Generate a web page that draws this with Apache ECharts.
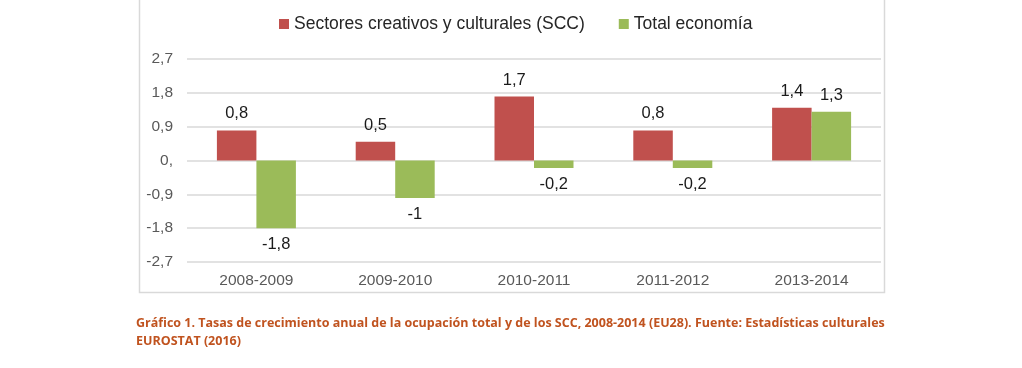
<!DOCTYPE html>
<html>
<head>
<meta charset="utf-8">
<script src="https://cdn.jsdelivr.net/npm/echarts@6/dist/echarts.min.js"></script>
<style>html,body{margin:0;padding:0;background:#fff;}#c{width:1022px;height:368px;}</style>
</head>
<body>
<div id="c"></div>
<script>
const categories = ['2008-2009', '2009-2010', '2010-2011', '2011-2012', '2013-2014'];
const seriesNames = ['Sectores creativos y culturales (SCC)', 'Total economía'];
const sccValues = [0.8, 0.5, 1.7, 0.8, 1.4];
const totalValues = [-1.8, -1.0, -0.2, -0.2, 1.3];
const captionLines = [
  'Gráfico 1. Tasas de crecimiento anual de la ocupación total y de los SCC, 2008-2014 (EU28). Fuente: Estadísticas culturales',
  'EUROSTAT (2016)'
];

const FONT = "'Liberation Sans', Arial, sans-serif";
function fmt(v) {
  if (v === 0) return '0,';
  return String(Math.round(v * 10) / 10).replace('.', ',');
}
function items(arr) {
  return arr.map(v => ({ value: v, label: { position: v < 0 ? 'bottom' : 'top' } }));
}

const chart = echarts.init(document.getElementById('c'), null, { renderer: 'canvas' });
const labelStyle = {
  show: true, distance: 8, color: '#1a1a1a', fontSize: 16.5,
  fontFamily: FONT,
  formatter: p => fmt(p.value)
};
chart.setOption({
  animation: false,
  backgroundColor: '#ffffff',
  color: ['#C0504D', '#9BBB59'],
  legend: {
    top: 10, left: 274,
    itemWidth: 10, itemHeight: 10, itemGap: 34,
    icon: 'rect',
    textStyle: { fontSize: 17.5, color: '#262626', fontFamily: FONT },
    data: seriesNames
  },
  grid: { left: 187, right: 141, top: 59, bottom: 106, containLabel: false },
  xAxis: {
    type: 'category', data: categories,
    axisLine: { show: false }, axisTick: { show: false },
    axisLabel: { color: '#595959', fontSize: 15.5, margin: 11, fontFamily: FONT }
  },
  yAxis: {
    type: 'value', min: -2.7, max: 2.7, interval: 0.9,
    axisLine: { show: false }, axisTick: { show: false },
    splitLine: { lineStyle: { color: '#D9D9D9', width: 1.5 } },
    axisLabel: { color: '#595959', fontSize: 15.5, margin: 14, fontFamily: FONT, formatter: fmt }
  },
  series: [
    { name: seriesNames[0], type: 'bar', data: items(sccValues), barWidth: 39.5, barGap: '0%', label: labelStyle },
    { name: seriesNames[1], type: 'bar', data: items(totalValues), barWidth: 39.5, barGap: '0%', label: labelStyle }
  ],
  graphic: [
    { type: 'rect', shape: { x: 139.5, y: -5, width: 745, height: 297.5 }, style: { fill: 'none', stroke: '#D9D9D9', lineWidth: 1.5 }, silent: true, z: -1 },
    { type: 'text', left: 136, top: 317, style: { text: captionLines[0], fill: '#C0531F', font: "bold 12.5px 'Open Sans', sans-serif" } },
    { type: 'text', left: 136, top: 335, style: { text: captionLines[1], fill: '#C0531F', font: "bold 12.5px 'Open Sans', sans-serif" } }
  ]
});
</script>
</body>
</html>
